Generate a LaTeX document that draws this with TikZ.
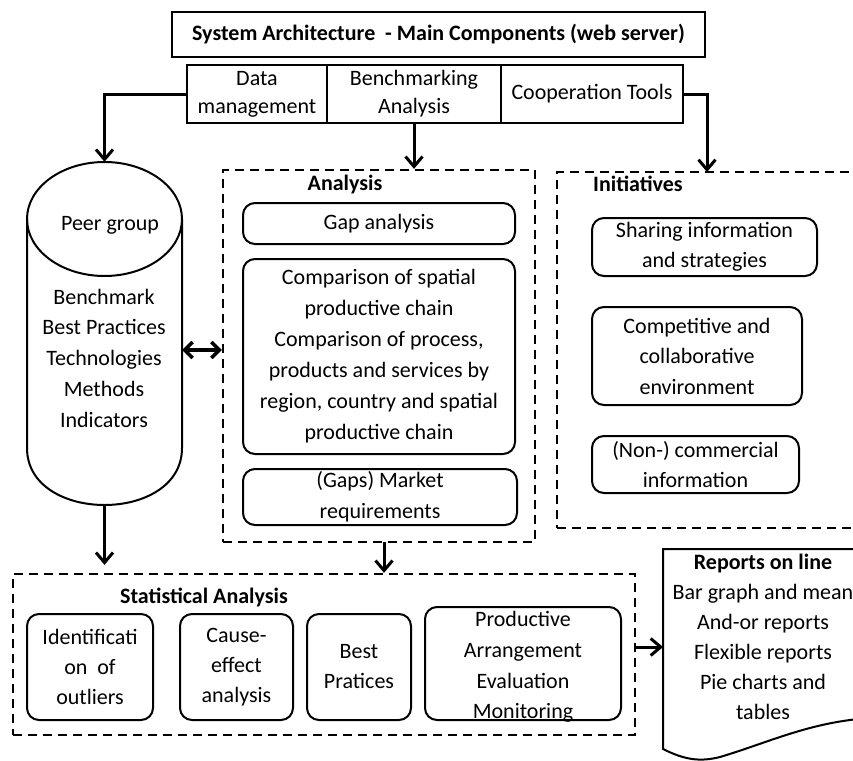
\documentclass[tikz,border=0pt]{standalone}
\usepackage{fontspec}
\setmainfont{Carlito}
\usetikzlibrary{arrows.meta,calc}
\begin{document}
\begin{tikzpicture}[x=1pt,y=-1pt,
  every node/.style={font=\fontsize{22}{30}\selectfont, align=center, inner sep=0pt},
  sbox/.style={draw, line width=2pt},
  rbox/.style={draw, line width=2pt, rounded corners=12pt},
  dbox/.style={draw, line width=2.3pt, dash pattern=on 9pt off 6pt},
  conn/.style={line width=3pt, -{Straight Barb[length=10pt,width=17pt]}},
  hd/.style={font=\fontsize{22}{26}\bfseries\selectfont}
]
\useasboundingbox (0,0) rectangle (853,760);
\clip (0,0) rectangle (853,760);

% title and components
\node[sbox, minimum width=533pt, minimum height=45pt] (title) at (438.5,34.5)
  {\bfseries System Architecture\ \ - Main Components (web server)};
\node[sbox, minimum width=140pt, minimum height=58pt, font=\fontsize{22}{28}\selectfont] (dm) at (257,94) {Data\\management};
\node[sbox, minimum width=174pt, minimum height=58pt, font=\fontsize{22}{28}\selectfont] (ba) at (414,94) {Benchmarking\\Analysis};
\node[sbox, minimum width=182pt, minimum height=58pt] (ct) at (592,94) {Cooperation Tools};

% cylinder
\draw[line width=2pt] (104.5,219) ellipse[x radius=77.5, y radius=57];
\draw[line width=2pt] (27,219) -- (27,448) .. controls (27,524) and (182,524) .. (182,448) -- (182,219);
\node[minimum width=155pt, minimum height=343pt] (cyl) at (104.5,333.5) {};
\node (peer) at (110,225) {Peer group};
\node[font=\fontsize{22}{30.75}\selectfont] (cyltext) at (104,358)
  {Benchmark\\Best Practices\\Technologies\\Methods\\Indicators};

% analysis
\node[dbox, minimum width=312pt, minimum height=372pt] (ana) at (379,356) {};
\node[hd] (anat) at (345,185) {Analysis};
\node[rbox, minimum width=272pt, minimum height=41pt] (gap) at (379,223.5) {Gap analysis};
\node[rbox, minimum width=272pt, minimum height=195pt, font=\fontsize{22}{31}\selectfont] (comp) at (379,356.5)
  {Comparison of spatial\\productive chain\\Comparison of process,\\products and services by\\region, country and spatial\\productive chain};
\node[rbox, minimum width=274pt, minimum height=56pt, font=\fontsize{22}{31}\selectfont] (gaps) at (380,497)
  {(Gaps) Market\\requirements};

% initiatives
\node[dbox, minimum width=343pt, minimum height=356pt] (ini) at (728.5,350) {};
\node[hd, anchor=west] (init) at (593,184) {Initiatives};
\node[rbox, minimum width=225pt, minimum height=58pt] (share) at (704.5,247) {Sharing information\\and strategies};
\node[rbox, minimum width=210pt, minimum height=98pt, font=\fontsize{22}{30.5}\selectfont] (compet) at (697,356) {Competitive and\\collaborative\\environment};
\node[rbox, minimum width=207pt, minimum height=57pt] (noncom) at (695.5,464.5) {(Non-) commercial\\information};

% statistical analysis
\node[dbox, minimum width=622pt, minimum height=161pt] (stat) at (324,654.5) {};
\node[hd] (statt) at (204,597) {Statistical Analysis};
\node[rbox, minimum width=126pt, minimum height=106pt, text depth=-6pt] (ident) at (90,667) {Identificati\\on\ \ of\\outliers};
\node[rbox, minimum width=113pt, minimum height=106pt] (cause) at (236.5,667) {Cause-\\effect\\analysis};
\node[rbox, minimum width=104pt, minimum height=106pt] (best) at (359,667) {Best\\Pratices};
\node[rbox, minimum width=196pt, minimum height=113pt] (prod) at (523,663.5) {};
\node[font=\fontsize{22}{30.7}\selectfont] (prodtext) at (523,667)
  {Productive\\Arrangement\\Evaluation\\Monitoring};

% reports document shape
\draw[line width=2pt] (870,549) -- (663,549) -- (663,749)
  .. controls (685,760) and (700,762) .. (720,757)
  .. controls (770,742) and (810,722) .. (870,718);
\coordinate (repw) at (663,647);
\node (rep) at (763,637) {\textbf{Reports on line}\\Bar graph and mean\\And-or reports\\Flexible reports\\Pie charts and\\tables};

% connectors
\coordinate (pa) at (0,350);
\coordinate (iniin) at (707,172);
\coordinate (anaout) at (384,542);
\draw[conn] (dm.west) -| (cyl.north);
\draw[conn] (ba.south) -- (ba.south |- ana.north);
\draw[conn] (ct.east) -| (iniin);
\draw[line width=3.5pt, {Straight Barb[length=8pt,width=16pt]}-{Straight Barb[length=8pt,width=16pt]}]
  (cyl.east |- pa) -- (ana.west |- pa);
\draw[conn, shorten >=8pt] (cyl.south) -- (cyl.south |- stat.north);
\draw[conn] (anaout) -- (anaout |- stat.north);
\draw[conn] (stat.east |- repw) -- (repw);
\end{tikzpicture}
\end{document}
